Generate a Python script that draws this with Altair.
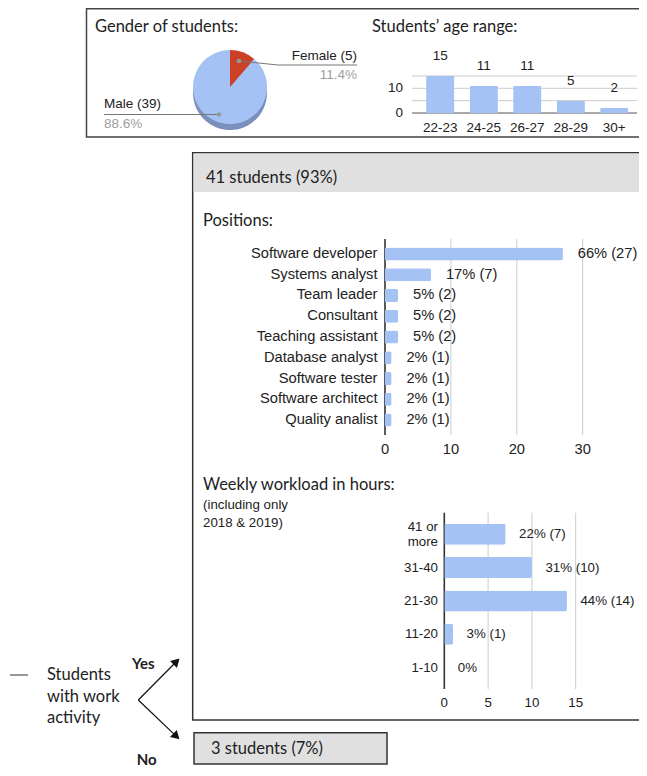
import altair as alt
import pandas as pd

# ---------------- data ----------------
gender = ["Female", "Male"]
gender_counts = [5, 39]
gender_pct = ["11.4%", "88.6%"]

age_ranges = ["22-23", "24-25", "26-27", "28-29", "30+"]
age_counts = [15, 11, 11, 5, 2]
age_grid = [0, 5, 10, 15]
age_tick_labels = [0, 10]

positions = ["Software developer", "Systems analyst", "Team leader", "Consultant",
             "Teaching assistant", "Database analyst", "Software tester",
             "Software architect", "Quality analist"]
position_counts = [27, 7, 2, 2, 2, 1, 1, 1, 1]
position_pct = [66, 17, 5, 5, 5, 2, 2, 2, 2]
position_ticks = [0, 10, 20, 30]

workload = ["41 or\nmore", "31-40", "21-30", "11-20", "1-10"]
workload_counts = [7, 10, 14, 1, 0]
workload_pct = [22, 31, 44, 3, 0]
workload_ticks = [0, 5, 10, 15]

# ---------------- style / layout helpers ----------------
HEAD = "Lato"
SANS = "Liberation Sans"
INK = "#222222"
BAR = "#a4c2f4"
GRID = "#cccccc"
BOXGRAY = "#e0e0e0"
W, H = 631, 760
OX, OY = 8, 8          # page offset of the plot origin


def X(v):
    return v - OX


def Y(v):
    return v - OY


ONE = alt.Data(values=[{"k": 0}])


def text(s, x, y, size=16, font=HEAD, color=INK, align="left", weight="normal",
         baseline="middle", lh=None):
    kw = dict(text=s, align=align, baseline=baseline, font=font, fontSize=size,
              color=color, fontWeight=weight, lineBreak="\n")
    if lh is not None:
        kw["lineHeight"] = lh
    return alt.Chart(ONE).mark_text(**kw).encode(x=alt.value(X(x)), y=alt.value(Y(y)))


def rect(x0, y0, x1, y1, fill="white", fill_opacity=1.0, stroke="#333333", sw=1.5):
    return alt.Chart(ONE).mark_rect(
        fill=fill, fillOpacity=fill_opacity, stroke=stroke, strokeWidth=sw
    ).encode(x=alt.value(X(x0)), x2=alt.value(X(x1)), y=alt.value(Y(y0)), y2=alt.value(Y(y1)))


def seg(x0, y0, x1, y1, color="#333333", w=1.2):
    return alt.Chart(ONE).mark_rule(color=color, strokeWidth=w).encode(
        x=alt.value(X(x0)), y=alt.value(Y(y0)), x2=alt.value(X(x1)), y2=alt.value(Y(y1)))


def dot(x, y, color="#999999", size=22):
    return alt.Chart(ONE).mark_point(filled=True, color=color, size=size, opacity=1).encode(
        x=alt.value(X(x)), y=alt.value(Y(y)))


def arrowhead(x, y, angle):
    return alt.Chart(ONE).mark_point(shape="triangle-up", filled=True, color="#111111",
                                     size=95, angle=angle, opacity=1).encode(
        x=alt.value(X(x)), y=alt.value(Y(y)))


# ---------------- frames ----------------
layers = []
layers.append(rect(86.5, OY + 0.75, 660, 137, fill="white", fill_opacity=0, stroke="#444444"))
layers.append(rect(192.7, 152.7, 660, 720, fill="white", fill_opacity=0, stroke="#333333"))
layers.append(rect(193.6, 153.6, 660, 192, fill=BOXGRAY, stroke=BOXGRAY, sw=0))
layers.append(rect(194, 732.7, 387, 764, fill=BOXGRAY, stroke="#333333"))

# ---------------- gender pie ----------------
pie_df = pd.DataFrame({"gender": gender, "count": gender_counts, "idx": list(range(len(gender)))})
PCX, PCY, R = 230, 87, 37
pie_side = alt.Chart(pie_df).mark_arc(outerRadius=R).encode(
    theta=alt.Theta("count:Q", stack=True),
    order=alt.Order("idx:Q"),
    color=alt.Color("gender:N", scale=alt.Scale(domain=gender, range=["#8f2e1b", "#7b90ba"]), legend=None),
    x=alt.value(X(PCX)), y=alt.value(Y(PCY + 6)),
)
pie_top = alt.Chart(pie_df).mark_arc(outerRadius=R).encode(
    theta=alt.Theta("count:Q", stack=True),
    order=alt.Order("idx:Q"),
    color=alt.Color("gender:N", scale=alt.Scale(domain=gender, range=["#cc4125", BAR]), legend=None),
    x=alt.value(X(PCX)), y=alt.value(Y(PCY)),
)
layers += [pie_side, pie_top]

layers += [
    seg(239, 61, 278, 65, color="#777777", w=1),
    seg(278, 65, 357, 65, color="#777777", w=1),
    dot(239, 61),
    seg(104, 114.5, 219, 114.5, color="#777777", w=1),
    dot(219, 114.5),
    text(f"{gender[0]} ({gender_counts[0]})", 357, 56, size=13.5, font=SANS, align="right"),
    text(gender_pct[0], 357, 75, size=13.5, font=SANS, color="#9e9e9e", align="right"),
    text(f"{gender[1]} ({gender_counts[1]})", 104, 104, size=13.5, font=SANS),
    text(gender_pct[1], 104, 124, size=13.5, font=SANS, color="#9e9e9e"),
    text("Gender of students:", 95, 27, size=16.5),
    text("Students\u2019 age range:", 372, 27, size=16.5),
]

# ---------------- age column chart ----------------
age_df = pd.DataFrame({"range": age_ranges, "count": age_counts})
age_x = alt.Scale(domain=age_ranges, range=[X(418.5), X(636)], paddingInner=0.35, paddingOuter=0.175)
age_y = alt.Scale(domain=[0, 20], range=[Y(113), Y(63.6)], nice=False, zero=True)
grid_df = pd.DataFrame({"v": age_grid})
tick_df = pd.DataFrame({"v": age_tick_labels})
age_chart = alt.layer(
    alt.Chart(grid_df).mark_rule(strokeWidth=1).encode(
        y=alt.Y("v:Q", scale=age_y, axis=None),
        x=alt.value(X(412)), x2=alt.value(X(637)),
        color=alt.condition(alt.datum.v == 0, alt.value("#555555"), alt.value(GRID)),
    ),
    alt.Chart(age_df).mark_bar(color=BAR, cornerRadiusTopLeft=1.5, cornerRadiusTopRight=1.5).encode(
        x=alt.X("range:N", scale=age_x, axis=None, sort=age_ranges),
        y=alt.Y("count:Q", scale=age_y, axis=None),
    ),
    alt.Chart(age_df).mark_text(font=SANS, fontSize=13.5, color=INK, dy=-20).encode(
        x=alt.X("range:N", scale=age_x, axis=None, sort=age_ranges),
        y=alt.Y("count:Q", scale=age_y, axis=None),
        text="count:Q",
    ),
    alt.Chart(age_df).mark_text(font=SANS, fontSize=13.5, color=INK).encode(
        x=alt.X("range:N", scale=age_x, axis=None, sort=age_ranges),
        y=alt.value(Y(128.3)),
        text="range:N",
    ),
    alt.Chart(tick_df).mark_text(font=SANS, fontSize=13.5, color=INK, align="right").encode(
        y=alt.Y("v:Q", scale=age_y, axis=None),
        x=alt.value(X(403)),
        text="v:Q",
    ),
)
layers.append(age_chart)

# ---------------- positions bar chart ----------------
layers.append(text("41 students (93%)", 206, 178, size=16.5))
layers.append(text("Positions:", 203, 221, size=16.5))

pos_df = pd.DataFrame({"pos": positions, "count": position_counts, "pct": position_pct})
pos_df["label"] = [f"{p}% ({c})" for p, c in zip(position_pct, position_counts)]
pos_x = alt.Scale(domain=[0, 30], range=[X(385), X(582.7)], nice=False, zero=True)
pos_y = alt.Scale(domain=positions, range=[Y(243.6), Y(430.4)], paddingInner=0.37, paddingOuter=0.185)
pgrid = pd.DataFrame({"v": position_ticks})
pos_chart = alt.layer(
    alt.Chart(pgrid).mark_rule().encode(
        x=alt.X("v:Q", scale=pos_x, axis=None),
        y=alt.value(Y(239)), y2=alt.value(Y(435)),
        color=alt.condition(alt.datum.v == 0, alt.value("#333333"), alt.value(GRID)),
        strokeWidth=alt.condition(alt.datum.v == 0, alt.value(1.6), alt.value(1)),
    ),
    alt.Chart(pos_df).mark_bar(color=BAR, cornerRadiusEnd=2).encode(
        x=alt.X("count:Q", scale=pos_x, axis=None),
        y=alt.Y("pos:N", scale=pos_y, axis=None, sort=positions),
    ),
    alt.Chart(pos_df).mark_text(font=SANS, fontSize=14.7, color=INK, align="left", dx=14.8).encode(
        x=alt.X("count:Q", scale=pos_x, axis=None),
        y=alt.Y("pos:N", scale=pos_y, axis=None, sort=positions),
        text="label:N",
    ),
    alt.Chart(pos_df).mark_text(font=SANS, fontSize=14.7, color=INK, align="right").encode(
        x=alt.value(X(377.5)),
        y=alt.Y("pos:N", scale=pos_y, axis=None, sort=positions),
        text="pos:N",
    ),
    alt.Chart(pgrid).mark_text(font=SANS, fontSize=14.7, color=INK).encode(
        x=alt.X("v:Q", scale=pos_x, axis=None),
        y=alt.value(Y(450)),
        text="v:Q",
    ),
)
layers.append(pos_chart)

# ---------------- weekly workload chart ----------------
layers.append(text("Weekly workload in hours:", 203, 485, size=16.5))
layers.append(text("(including only\n2018 & 2019)", 203, 505, size=13.3, font=SANS, lh=18.3))

wl_df = pd.DataFrame({"wl": workload, "count": workload_counts, "pct": workload_pct})
wl_df["label"] = [f"{p}% ({c})" if c > 0 else f"{p}%" for p, c in zip(workload_pct, workload_counts)]
wl_df["multi"] = ["\n" in w for w in workload]
wl_x = alt.Scale(domain=[0, 15], range=[X(444.3), X(575.7)], nice=False, zero=True)
wl_y = alt.Scale(domain=workload, range=[Y(517.5), Y(684.4)], paddingInner=0.37, paddingOuter=0.185)
wgrid = pd.DataFrame({"v": workload_ticks})
wl_chart = alt.layer(
    alt.Chart(wgrid).mark_rule().encode(
        x=alt.X("v:Q", scale=wl_x, axis=None),
        y=alt.value(Y(512.7)), y2=alt.value(Y(689)),
        color=alt.condition(alt.datum.v == 0, alt.value("#333333"), alt.value(GRID)),
        strokeWidth=alt.condition(alt.datum.v == 0, alt.value(1.6), alt.value(1)),
    ),
    alt.Chart(wl_df).mark_bar(color=BAR, cornerRadiusEnd=2).encode(
        x=alt.X("count:Q", scale=wl_x, axis=None),
        y=alt.Y("wl:N", scale=wl_y, axis=None, sort=workload),
    ),
    alt.Chart(wl_df).mark_text(font=SANS, fontSize=13.3, color=INK, align="left", dx=13.5).encode(
        x=alt.X("count:Q", scale=wl_x, axis=None),
        y=alt.Y("wl:N", scale=wl_y, axis=None, sort=workload),
        text="label:N",
    ),
    alt.Chart(wl_df).transform_filter("!datum.multi").mark_text(
        font=SANS, fontSize=13.3, color=INK, align="right").encode(
        x=alt.value(X(438)),
        y=alt.Y("wl:N", scale=wl_y, axis=None, sort=workload),
        text="wl:N",
    ),
    alt.Chart(wl_df).transform_filter("datum.multi").mark_text(
        font=SANS, fontSize=13.3, color=INK, align="right", lineBreak="\n",
        lineHeight=15, dy=-7.5).encode(
        x=alt.value(X(438)),
        y=alt.Y("wl:N", scale=wl_y, axis=None, sort=workload),
        text="wl:N",
    ),
    alt.Chart(wgrid).mark_text(font=SANS, fontSize=13.3, color=INK).encode(
        x=alt.X("v:Q", scale=wl_x, axis=None),
        y=alt.value(Y(703)),
        text="v:Q",
    ),
)
layers.append(wl_chart)

# ---------------- bottom box & flow ----------------
layers += [
    text("3 students (7%)", 211, 749, size=16.5),
    seg(10, 675, 28, 675, color="#333333", w=1),
    text("Students\nwith work\nactivity", 47, 675, size=16.5, lh=21.5),
    text("Yes", 132, 664, size=15, weight="bold"),
    text("No", 136.7, H + OY, size=15, weight="bold", baseline="bottom"),
    seg(138.3, 700, 176.5, 661.5, color="#111111", w=1.2),
    seg(138.3, 700, 176.4, 736.4, color="#111111", w=1.2),
    arrowhead(176.5, 661.5, 45),
    arrowhead(176.4, 736.4, 134),
]

chart = alt.layer(*layers).resolve_scale(
    x="independent", y="independent", theta="independent", color="independent"
).properties(
    width=W, height=H, autosize=alt.AutoSizeParams(type="none"), padding=0
).configure_view(stroke=None)

chart.save("out.html", embed_options={"renderer": "svg", "actions": False})
